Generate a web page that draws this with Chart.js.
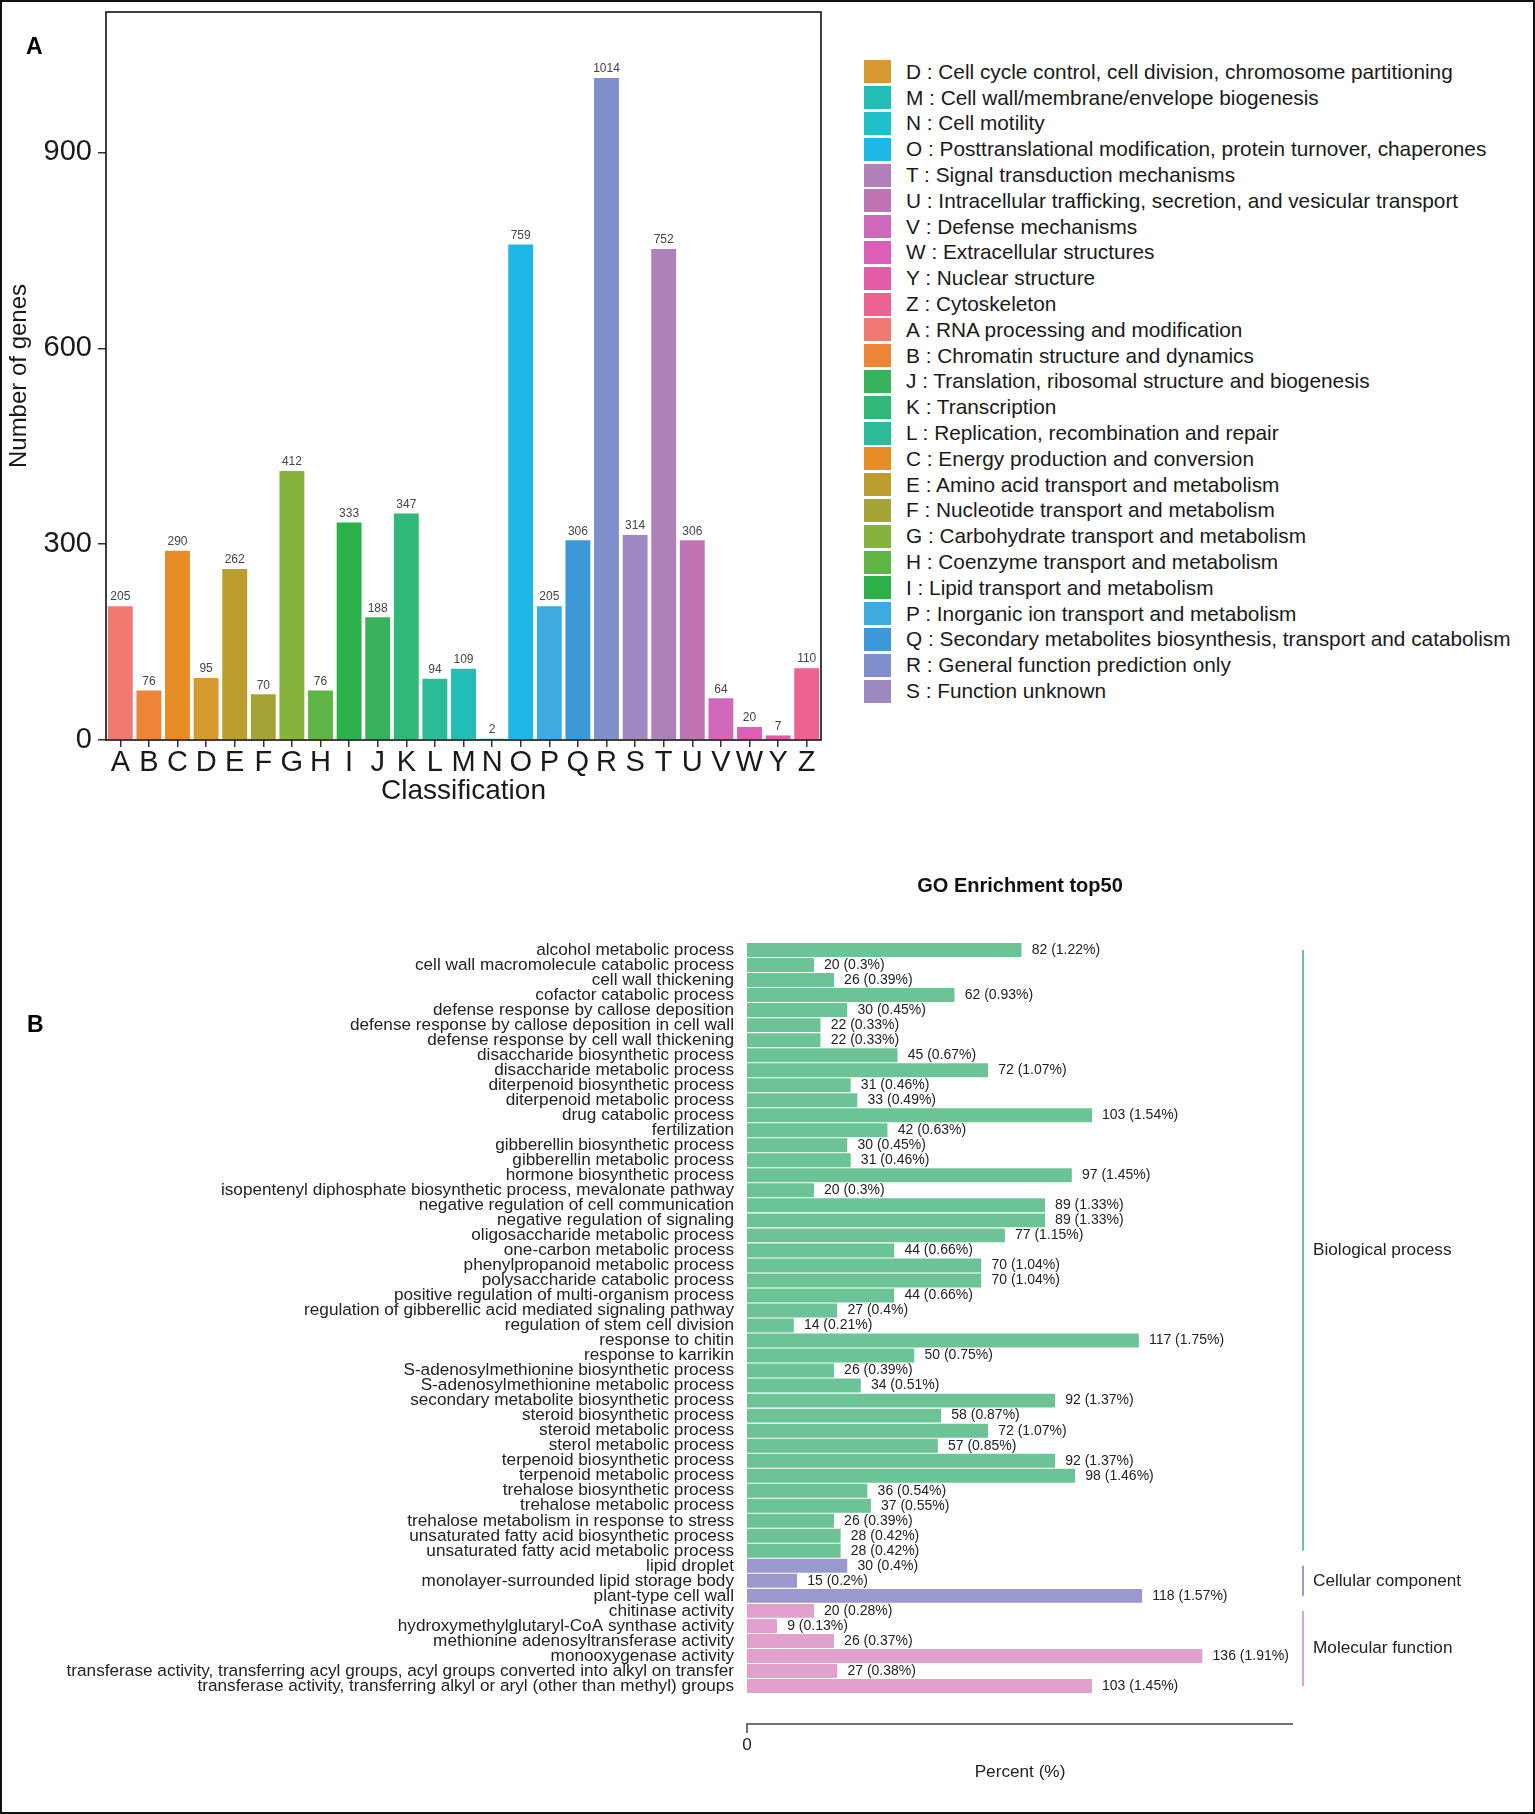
<!DOCTYPE html>
<html>
<head>
<meta charset="utf-8">
<script src="https://cdn.jsdelivr.net/npm/chart.js@4.4.0/dist/chart.umd.min.js"></script>
<style>
  html, body { margin:0; padding:0; background:#fff; overflow:hidden; }
  body { width:1535px; height:1814px; position:relative; font-family:"Liberation Sans", Arial, sans-serif; }
  #frame { position:absolute; left:0; top:0; width:1535px; height:1814px; box-sizing:border-box; border:2px solid #111; pointer-events:none; }
  .tag { position:absolute; font-weight:bold; font-size:23px; line-height:1; color:#000; }
  #cogA { position:absolute; left:0; top:0; }
  #goB { position:absolute; left:0; top:860px; }
  #legendA { position:absolute; left:864px; top:59px; font-size:20.8px; color:#1a1a1a; }
  .lg-row { height:25.8px; display:flex; align-items:center; white-space:nowrap; }
  .lg-box { width:27px; height:23px; margin-right:15px; flex:none; }
</style>
</head>
<body>
<canvas id="cogA" width="850" height="820"></canvas>
<div id="legendA"></div>
<canvas id="goB" width="1535" height="940"></canvas>
<div class="tag" style="left:26px;top:35px">A</div>
<div class="tag" style="left:27px;top:1013px">B</div>
<div id="frame"></div>
<script>
// ---- panel A: COG classification ----
const cogLetters = ['A','B','C','D','E','F','G','H','I','J','K','L','M','N','O','P','Q','R','S','T','U','V','W','Y','Z'];
const cogCounts = [205,76,290,95,262,70,412,76,333,188,347,94,109,2,759,205,306,1014,314,752,306,64,20,7,110];
const cogColors = ['#F07A72','#EE8438','#E88C26','#D69A30','#BC9E2E','#A6A436','#86B23E','#5EB444','#2CB04A','#38B25C',
                   '#30B878','#2ABB98','#22BDB4','#1FC0C8','#1FB8E6','#3DAAE0','#3C98D8','#7F90CC','#9E88C2','#AF80BA',
                   '#C074B4','#D068BC','#DC5EB6','#E45CA8','#EC6290'];
const cogNames = ['RNA processing and modification','Chromatin structure and dynamics','Energy production and conversion',
  'Cell cycle control, cell division, chromosome partitioning','Amino acid transport and metabolism',
  'Nucleotide transport and metabolism','Carbohydrate transport and metabolism','Coenzyme transport and metabolism',
  'Lipid transport and metabolism','Translation, ribosomal structure and biogenesis','Transcription',
  'Replication, recombination and repair','Cell wall/membrane/envelope biogenesis','Cell motility',
  'Posttranslational modification, protein turnover, chaperones','Inorganic ion transport and metabolism',
  'Secondary metabolites biosynthesis, transport and catabolism','General function prediction only','Function unknown',
  'Signal transduction mechanisms','Intracellular trafficking, secretion, and vesicular transport','Defense mechanisms',
  'Extracellular structures','Nuclear structure','Cytoskeleton'];
const legendOrder = ['D','M','N','O','T','U','V','W','Y','Z','A','B','J','K','L','C','E','F','G','H','I','P','Q','R','S'];
const cogTicks = [0,300,600,900];
const cogMax = 1115;

// ---- panel B: GO enrichment top50 ----
const goTerms = ['alcohol metabolic process','cell wall macromolecule catabolic process','cell wall thickening',
  'cofactor catabolic process','defense response by callose deposition','defense response by callose deposition in cell wall',
  'defense response by cell wall thickening','disaccharide biosynthetic process','disaccharide metabolic process',
  'diterpenoid biosynthetic process','diterpenoid metabolic process','drug catabolic process','fertilization',
  'gibberellin biosynthetic process','gibberellin metabolic process','hormone biosynthetic process',
  'isopentenyl diphosphate biosynthetic process, mevalonate pathway','negative regulation of cell communication',
  'negative regulation of signaling','oligosaccharide metabolic process','one-carbon metabolic process',
  'phenylpropanoid metabolic process','polysaccharide catabolic process','positive regulation of multi-organism process',
  'regulation of gibberellic acid mediated signaling pathway','regulation of stem cell division','response to chitin',
  'response to karrikin','S-adenosylmethionine biosynthetic process','S-adenosylmethionine metabolic process',
  'secondary metabolite biosynthetic process','steroid biosynthetic process','steroid metabolic process',
  'sterol metabolic process','terpenoid biosynthetic process','terpenoid metabolic process',
  'trehalose biosynthetic process','trehalose metabolic process','trehalose metabolism in response to stress',
  'unsaturated fatty acid biosynthetic process','unsaturated fatty acid metabolic process',
  'lipid droplet','monolayer-surrounded lipid storage body','plant-type cell wall',
  'chitinase activity','hydroxymethylglutaryl-CoA synthase activity','methionine adenosyltransferase activity',
  'monooxygenase activity','transferase activity, transferring acyl groups, acyl groups converted into alkyl on transfer',
  'transferase activity, transferring alkyl or aryl (other than methyl) groups'];
const goCounts = [82,20,26,62,30,22,22,45,72,31,33,103,42,30,31,97,20,89,89,77,44,70,70,44,27,14,117,50,26,34,
                  92,58,72,57,92,98,36,37,26,28,28, 30,15,118, 20,9,26,136,27,103];
const goPercents = ['1.22','0.3','0.39','0.93','0.45','0.33','0.33','0.67','1.07','0.46','0.49','1.54','0.63','0.45',
  '0.46','1.45','0.3','1.33','1.33','1.15','0.66','1.04','1.04','0.66','0.4','0.21','1.75','0.75','0.39','0.51',
  '1.37','0.87','1.07','0.85','1.37','1.46','0.54','0.55','0.39','0.42','0.42', '0.4','0.2','1.57',
  '0.28','0.13','0.37','1.91','0.38','1.45'];
const goGroupNames = ['Biological process','Cellular component','Molecular function'];
const goGroupSizes = [41,3,6];
const goGroupColors = ['#6CC496','#9B98CE','#E2A0CC'];
const goAxisMax = 163;

const FONT = '"Liberation Sans", Arial, sans-serif';
Chart.defaults.font.family = FONT;

// legend A (html)
const legendBox = document.getElementById('legendA');
legendOrder.forEach(letter => {
  const i = cogLetters.indexOf(letter);
  const row = document.createElement('div');
  row.className = 'lg-row';
  const box = document.createElement('span');
  box.className = 'lg-box';
  box.style.background = cogColors[i];
  const txt = document.createElement('span');
  txt.innerText = letter + ' : ' + cogNames[i];
  row.appendChild(box);
  row.appendChild(txt);
  legendBox.appendChild(row);
});

// value labels + panel border for A
const cogDecor = {
  id:'cogDecor',
  afterDatasetsDraw(chart){
    const ctx = chart.ctx;
    const meta = chart.getDatasetMeta(0);
    ctx.save();
    ctx.fillStyle = '#444';
    ctx.font = '12px ' + FONT;
    ctx.textAlign = 'center';
    ctx.textBaseline = 'bottom';
    meta.data.forEach((bar, i) => {
      ctx.fillText(String(cogCounts[i]), bar.x, bar.y - 3);
    });
    ctx.restore();
  },
  afterDraw(chart){
    const {ctx, chartArea:a} = chart;
    ctx.save();
    ctx.strokeStyle = '#111';
    ctx.lineWidth = 1.6;
    ctx.strokeRect(a.left, a.top, a.right - a.left, a.bottom - a.top);
    ctx.restore();
  }
};

new Chart(document.getElementById('cogA'), {
  type:'bar',
  data:{
    labels:cogLetters,
    datasets:[{ data:cogCounts, backgroundColor:cogColors, borderWidth:0, categoryPercentage:1, barPercentage:0.87 }]
  },
  options:{
    responsive:false, animation:false,
    layout:{ padding:{ left:0, right:29, top:12, bottom:0 } },
    plugins:{ legend:{display:false}, tooltip:{enabled:false} },
    scales:{
      x:{
        grid:{ offset:false, drawOnChartArea:false, tickLength:7, color:'#333', lineWidth:1.5 },
        border:{ display:false },
        ticks:{ font:{ size:29, lineHeight:1 }, color:'#1a1a1a', padding:1, autoSkip:false, maxRotation:0 },
        title:{ display:true, text:'Classification', font:{ size:28 }, color:'#1a1a1a', padding:{ top:0, bottom:12 } },
        afterFit(s){ s.height = 80; s.paddingLeft = 0; s.paddingRight = 0; }
      },
      y:{
        min:0, max:cogMax,
        grid:{ drawOnChartArea:false, tickLength:8, color:'#333', lineWidth:1.5 },
        border:{ display:false },
        ticks:{ font:{ size:29 }, color:'#1a1a1a', padding:6 },
        afterBuildTicks(s){ s.ticks = cogTicks.map(v => ({ value:v })); },
        title:{ display:true, text:'Number of genes', font:{ size:24 }, color:'#1a1a1a', padding:{ top:5, bottom:0 } },
        afterFit(s){ s.width = 106; s.paddingTop = 0; s.paddingBottom = 0; }
      }
    }
  },
  plugins:[cogDecor]
});

// per-term group colours
const goColors = [];
goGroupSizes.forEach((n, g) => { for (let k = 0; k < n; k++) goColors.push(goGroupColors[g]); });

const goDecor = {
  id:'goDecor',
  afterDatasetsDraw(chart){
    const ctx = chart.ctx;
    const meta = chart.getDatasetMeta(0);
    ctx.save();
    ctx.font = '14px ' + FONT;
    ctx.textBaseline = 'middle';
    meta.data.forEach((bar, i) => {
      const txt = goCounts[i] + ' (' + goPercents[i] + '%)';
      const w = ctx.measureText(txt).width;
      ctx.fillStyle = '#fff';
      ctx.fillRect(bar.x, bar.y - 7, w + 14, 14);
      ctx.fillStyle = '#222';
      ctx.fillText(txt, bar.x + 10, bar.y);
    });
    ctx.restore();
  },
  afterDraw(chart){
    const {ctx, chartArea:a} = chart;
    const xs = chart.scales.x, ys = chart.scales.y;
    ctx.save();
    // title
    ctx.fillStyle = '#111';
    ctx.font = 'bold 20px ' + FONT;
    ctx.textAlign = 'center';
    ctx.textBaseline = 'middle';
    ctx.fillText('GO Enrichment top50', (a.left + a.right) / 2, 26);
    // group brackets
    let start = 0;
    goGroupSizes.forEach((n, g) => {
      const y0 = ys.getPixelForValue(start), y1 = ys.getPixelForValue(start + n - 1);
      ctx.strokeStyle = goGroupColors[g];
      ctx.lineWidth = 2;
      ctx.beginPath(); ctx.moveTo(a.right + 10, y0); ctx.lineTo(a.right + 10, y1); ctx.stroke();
      ctx.fillStyle = '#222';
      ctx.font = '17.2px ' + FONT;
      ctx.textAlign = 'left';
      ctx.fillText(goGroupNames[g], a.right + 20, (y0 + y1) / 2);
      start += n;
    });
    // x axis drawn below the bars
    const axY = a.bottom + 30.5;
    const x0 = xs.getPixelForValue(0), x1 = xs.getPixelForValue(goAxisMax);
    ctx.strokeStyle = '#444';
    ctx.lineWidth = 1.5;
    ctx.beginPath(); ctx.moveTo(x0, axY + 9); ctx.lineTo(x0, axY); ctx.lineTo(x1, axY); ctx.stroke();
    ctx.fillStyle = '#222';
    ctx.font = '17.2px ' + FONT;
    ctx.textAlign = 'center';
    ctx.fillText('0', x0, axY + 21);
    ctx.fillText('Percent (%)', (a.left + a.right) / 2, axY + 48);
    ctx.restore();
  }
};

new Chart(document.getElementById('goB'), {
  type:'bar',
  data:{
    labels:goTerms,
    datasets:[{ data:goCounts, backgroundColor:goColors, borderWidth:0, categoryPercentage:1, barPercentage:0.93 }]
  },
  options:{
    indexAxis:'y',
    responsive:false, animation:false,
    layout:{ padding:{ left:0, right:242, top:82.5, bottom:106.5 } },
    plugins:{ legend:{display:false}, tooltip:{enabled:false} },
    scales:{
      x:{ display:false, min:0, max:goAxisMax },
      y:{
        grid:{ display:false, drawTicks:false },
        border:{ display:false },
        ticks:{ font:{ size:17.2, lineHeight:1 }, color:'#222', padding:13, autoSkip:false },
        afterFit(s){ s.width = 747; }
      }
    }
  },
  plugins:[goDecor]
});
</script>
</body>
</html>
